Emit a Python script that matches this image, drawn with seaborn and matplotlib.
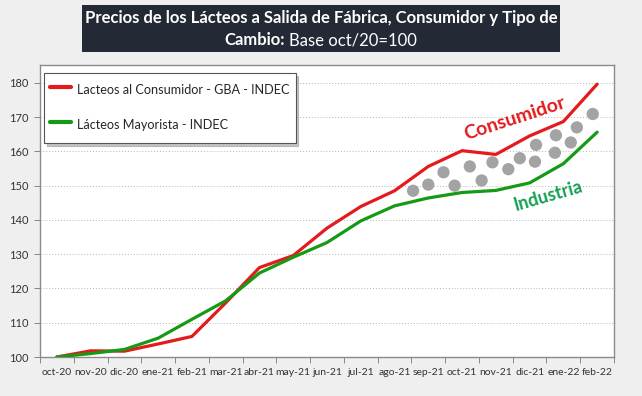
import numpy as np
import pandas as pd
import seaborn as sns
import matplotlib.pyplot as plt
from matplotlib.patches import Rectangle

meses = ['oct-20', 'nov-20', 'dic-20', 'ene-21', 'feb-21', 'mar-21', 'abr-21', 'may-21', 'jun-21',
         'jul-21', 'ago-21', 'sep-21', 'oct-21', 'nov-21', 'dic-21', 'ene-22', 'feb-22']
consumidor = [100, 101.8, 101.7, 103.8, 106.0, 115.8, 126.1, 129.6, 137.6,
              143.9, 148.5, 155.6, 160.2, 159.1, 164.5, 168.7, 179.6]
mayorista = [100, 101.0, 102.2, 105.5, 111.0, 116.4, 124.5, 129.1, 133.4,
             139.7, 144.1, 146.4, 148.0, 148.6, 150.8, 156.4, 165.6]
# puntos grises decorativos entre las dos curvas (posicion en meses, valor)
puntos_x = [10.55, 11.0, 11.45, 11.78, 12.23, 12.58, 12.9, 13.37, 13.71, 14.16, 14.19,
            14.75, 14.78, 15.22, 15.4, 15.87]
puntos_y = [148.5, 150.3, 153.9, 150.0, 155.6, 151.5, 156.8, 154.8, 158.0, 157.0, 161.9,
            159.6, 164.7, 162.6, 167.0, 170.9]

sns.set_style('white')
plt.rcParams['font.family'] = ['Lato', 'DejaVu Sans']

rojo = '#e41a1c'
verde = '#169a16'

df = pd.DataFrame({'mes': list(range(len(meses))) * 2,
                   'valor': consumidor + mayorista,
                   'serie': ['Lacteos al Consumidor - GBA - INDEC'] * len(meses) +
                            ['Lácteos Mayorista - INDEC'] * len(meses)})
dots = pd.DataFrame({'x': puntos_x, 'y': puntos_y})

fig = plt.figure(figsize=(6.42, 3.96), dpi=100, facecolor='#efefef')
ax = fig.add_axes([40 / 642, 39 / 396, 574 / 642, 292 / 396])
ax.set_facecolor('white')

sns.scatterplot(data=dots, x='x', y='y', color='#a3a3a3', s=78, edgecolor='none',
                legend=False, ax=ax, zorder=2)
sns.lineplot(data=df, x='mes', y='valor', hue='serie', palette=[rojo, verde],
             linewidth=2.3, ax=ax, zorder=3)

ax.set_xlim(-0.5, len(meses) - 0.5)
ax.set_ylim(100, 185.2)
ax.set_yticks(range(100, 181, 10))
ax.set_xticks(range(len(meses)))
ax.set_xticklabels(meses)
ax.set_xticks(np.arange(-0.5, len(meses), 1), minor=True)
ax.tick_params(axis='x', which='major', length=0, pad=8, labelsize=7.5, labelcolor='#333333')
ax.tick_params(axis='x', which='minor', length=4, width=0.7, color='#888888', direction='out',
               bottom=True)
ax.tick_params(axis='y', length=4, width=0.7, color='#888888', direction='out', left=True,
               labelsize=8, labelcolor='#333333', pad=4)
ax.set_xlabel('')
ax.set_ylabel('')
ax.yaxis.grid(True, linestyle=(0, (1, 2)), color='#b5b5b5', linewidth=0.7)
for s in ax.spines.values():
    s.set_color('#8a8a8a')
    s.set_linewidth(1.0)

leg = ax.legend(loc='upper left', bbox_to_anchor=(0.007, 0.973), borderaxespad=0,
                fontsize=9.1, frameon=True, fancybox=False, shadow={'color': '0.55', 'alpha': 0.5},
                handlelength=1.6, handleheight=2.3, labelspacing=1.05, borderpad=0.5,
                handletextpad=0.5)
leg.get_frame().set_edgecolor('#555555')
leg.get_frame().set_linewidth(0.8)
for h in leg.get_lines():
    h.set_linewidth(3)

ax.text(13.57, 169.7, 'Consumidor', color=rojo, fontsize=14, fontweight='bold',
        rotation=18, ha='center', va='center')
ax.text(14.54, 147.0, 'Industria', color='#16a050', fontsize=13, fontweight='bold',
        rotation=16, ha='center', va='center')

# caja del titulo
fig.patches.append(Rectangle((82 / 642, 1 - 52 / 396), 478 / 642, 47 / 396,
                             transform=fig.transFigure, facecolor='#232a35',
                             edgecolor='none', zorder=0))
fig.text(321 / 642, 1 - 18 / 396,
         'Precios de los Lácteos a Salida de Fábrica, Consumidor y Tipo de',
         color='white', fontsize=12, fontweight='bold', ha='center', va='center')
t1 = fig.text(0, 1 - 40 / 396, 'Cambio:', color='white', fontsize=12,
              fontweight='bold', ha='left', va='center')
t2 = fig.text(0, 1 - 40 / 396, 'Base oct/20=100', color='white', fontsize=12,
              ha='left', va='center')
r = fig.canvas.get_renderer()
w1 = t1.get_window_extent(r).width
w2 = t2.get_window_extent(r).width
x0 = 321 - (w1 + 4 + w2) / 2
t1.set_x(x0 / 642)
t2.set_x((x0 + w1 + 4) / 642)

fig.savefig('out.png', dpi=100, facecolor=fig.get_facecolor())
